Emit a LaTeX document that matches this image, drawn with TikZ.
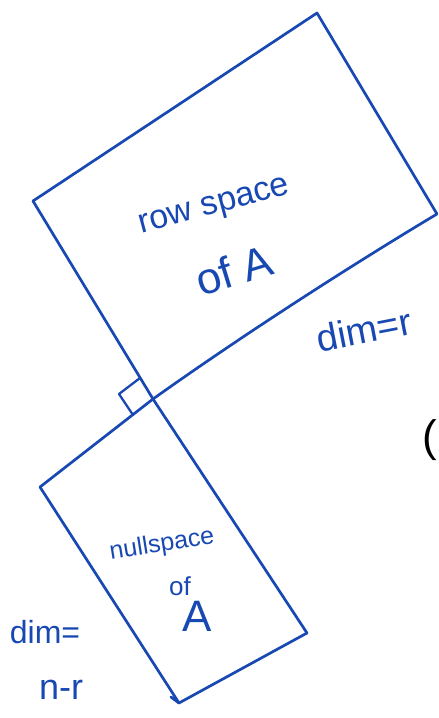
\documentclass[tikz,border=0pt]{standalone}
\usepackage{fontspec}
\setmainfont{Liberation Sans}
\definecolor{ink}{RGB}{24,72,178}
\begin{document}
\begin{tikzpicture}[x=1pt,y=-1pt,
  edge/.style={draw=ink,line width=2.7pt,line cap=round,line join=round},
  hand/.style={text=ink,inner sep=0pt,font=#1},
  hand/.default={\fontsize{34}{36}\selectfont}]
\useasboundingbox (0,0) rectangle (439,718);
% corners of the row space rectangle
\coordinate (rTL) at (33,201);
\coordinate (rT) at (317,13);
\coordinate (rR) at (437,214);
\coordinate (C) at (153,399);
% corners of the nullspace rectangle
\coordinate (nL) at (40,487);
\coordinate (nBL) at (179,703);
\coordinate (nBR) at (307,633);
% right-angle mark
\coordinate (m1) at (140,378);
\coordinate (m2) at (119,394);
\coordinate (m3) at (133,415);
% row space rectangle
\draw[edge] (rTL) -- (rT) -- (rR)
  .. controls (360,260) and (250,330) .. (C);
\draw[edge] (rTL) -- (C) -- (nBR);
% nullspace rectangle
\draw[edge] (C) -- (nL) -- (nBL);
\draw[edge] (nBR) -- (nBL) -- ++(-8,-6);
% right angle
\draw[edge,line width=2.3pt] (m1) -- (m2) -- (m3);
% labels
\node[hand,rotate=15] (row) at (215,208) {row space};
\node[hand={\fontsize{44}{46}\selectfont},rotate=17] (ofa) at (234,270) {of A};
\node[hand={\fontsize{38}{40}\selectfont},rotate=11] (dimr) at (364,330) {dim=r};
\node[hand={\fontsize{25}{27}\selectfont},rotate=9] (null) at (162,545) {nullspace};
\node[hand={\fontsize{26}{28}\selectfont}] (nof) at (180,586) {of};
\node[hand={\fontsize{44}{46}\selectfont}] (nA) at (197,616) {A};
\node[hand={\fontsize{32}{34}\selectfont}] (dim2) at (45,632) {dim=};
\node[hand={\fontsize{36}{38}\selectfont}] (nr) at (61,690) {n-r};
\node[text=black,inner sep=0pt,font=\fontsize{44}{46}\selectfont] (par) at (430,440) {(};
\end{tikzpicture}
\end{document}
